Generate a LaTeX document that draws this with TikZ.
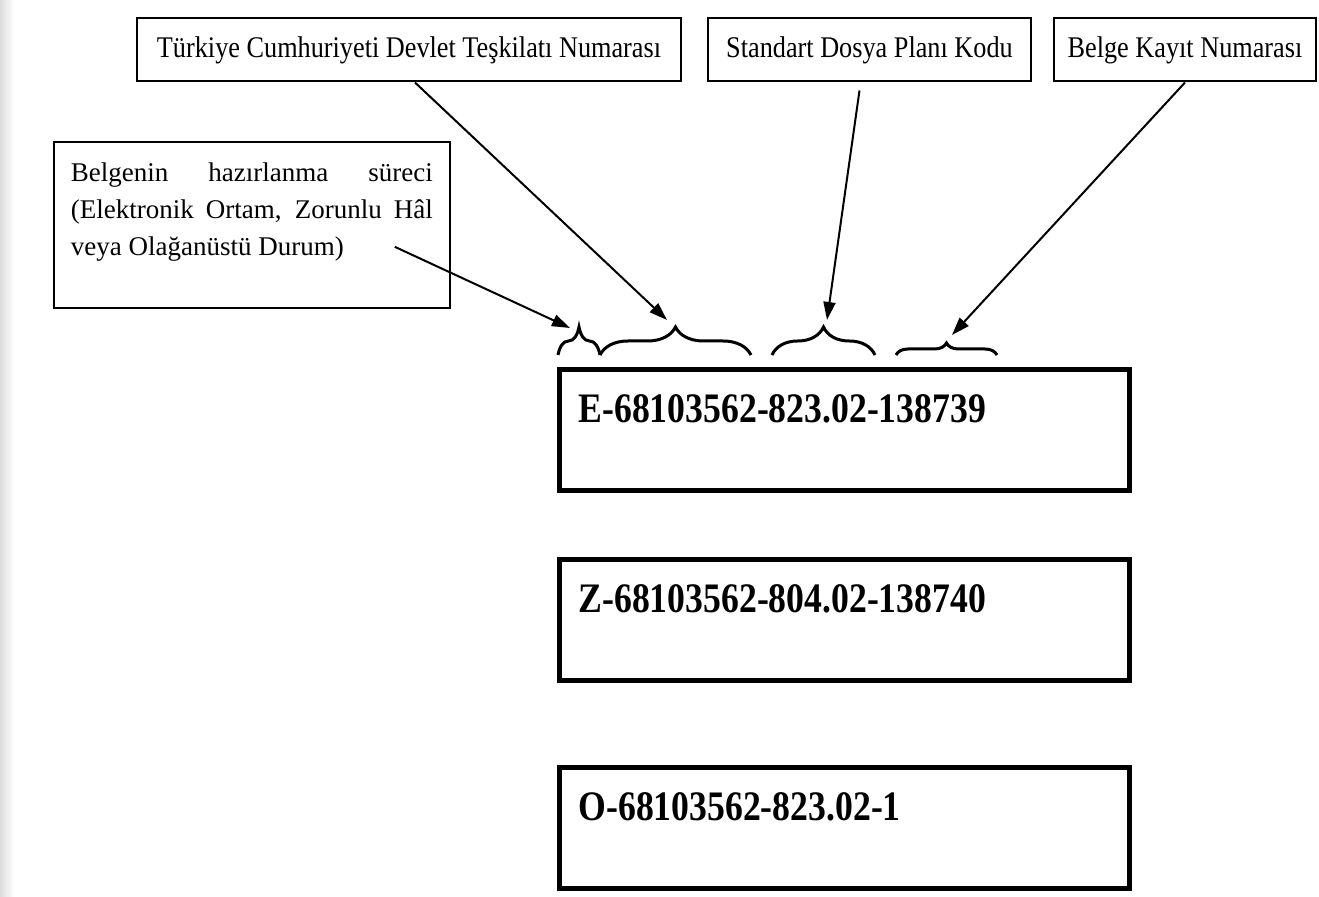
\documentclass[tikz,border=0pt]{standalone}
\usepackage{fontspec}
\setmainfont{Liberation Serif}
\newfontfamily\narrowfont[FakeStretch=0.875]{Liberation Serif}
\newfontfamily\numfont[FakeStretch=0.85]{Liberation Serif}
\usetikzlibrary{positioning, arrows.meta, calc, decorations.pathreplacing}

\begin{document}
\begin{tikzpicture}[
    x=0.5pt, y=-0.5pt, >={Triangle[length=9pt, width=6pt]},
    lbl/.style={draw, line width=1pt, minimum height=31.5pt, inner sep=0pt, font=\narrowfont\fontsize{15}{17}\selectfont},
    note/.style={draw, line width=0.9pt, anchor=north west, inner xsep=8.5pt, inner ysep=0pt, text width=181pt, align=justify, text height=20pt, text depth=63pt, font=\fontsize{13.5}{18.5}\selectfont},
    idbox/.style={draw, line width=2.5pt, inner xsep=9.5pt, inner ysep=0pt, text width=266pt, align=left, text height=26.5pt, text depth=34pt, font=\numfont\bfseries\fontsize{21}{24}\selectfont},
    arr/.style={->, line width=1pt},
    brc/.style={decorate, decoration={brace, amplitude=#1}, line width=1.5pt}
]
\useasboundingbox (0,0) rectangle (1319,897);
\shade[left color=black!14, right color=white] (0,0) rectangle (14,897);

% Ust kutular
\node[lbl, minimum width=272pt] (tck) at (409,50) {Türkiye Cumhuriyeti Devlet Teşkilatı Numarası};
\node[lbl, minimum width=161.5pt, right=12.5pt of tck] (sdp) {Standart Dosya Planı Kodu};
\node[lbl, minimum width=131pt, right=10.5pt of sdp] (bkn) {Belge Kayıt Numarası};

% Surec kutusu
\node[note] (proc) at (53,141) {Belgenin hazırlanma süreci\linebreak (Elektronik Ortam, Zorunlu Hâl\linebreak veya Olağanüstü Durum)};

% Sayi kutulari
\node[idbox, anchor=north west] (eid) at (557,367) {E-68103562-823.02-138739};
\node[idbox, below=32pt of eid] (zid) {Z-68103562-804.02-138740};
\node[idbox, below=41pt of zid] (oid) {O-68103562-823.02-1};

% Parantezler
\draw[brc=14pt] (558,355) -- (600,355);
\draw[brc=14pt] (600,355) -- (751,355);
\draw[brc=14pt] (772,355) -- (875,355);
\draw[brc=6pt] (896,355) -- (997,355);

% Ok uclari
\coordinate (t1) at (570,328);
\coordinate (t2) at (667,320);
\coordinate (t3) at (827,320);
\coordinate (t4) at (952,335);

\draw[arr] ($(proc.south east)+(-56,-62)$) -- (t1);
\draw[arr] ([xshift=3pt]tck.south) -- (t2);
\draw[arr] ($(sdp.south)+(-10,8)$) -- (t3);
\draw[arr] (bkn.south) -- (t4);

\end{tikzpicture}
\end{document}
